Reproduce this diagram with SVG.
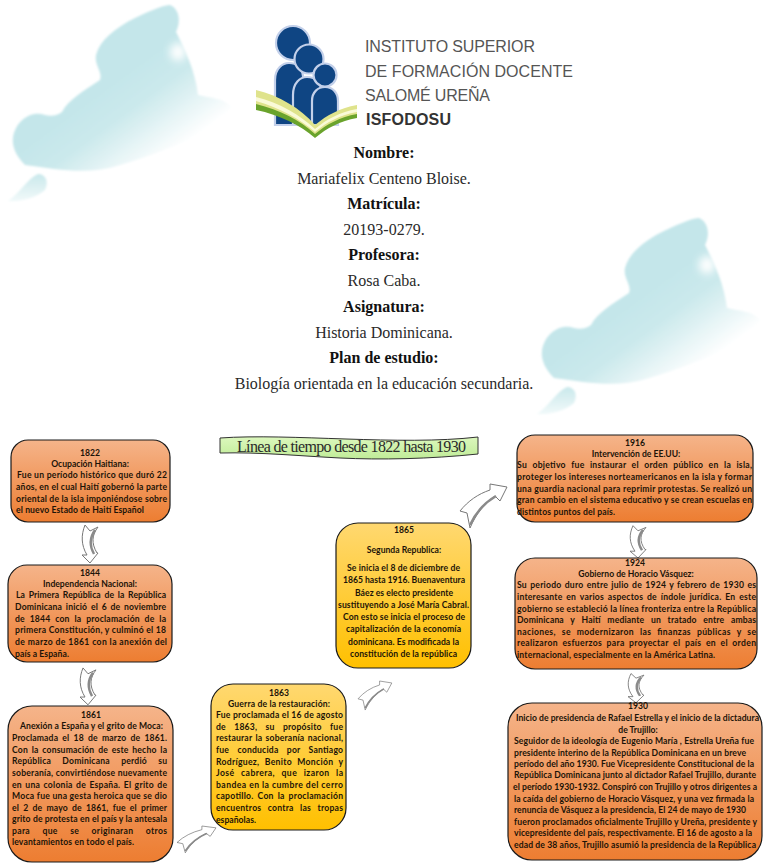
<svg xmlns="http://www.w3.org/2000/svg" width="768" height="866" viewBox="0 0 768 866">
<style>
.b{font-family:"Lato","Liberation Sans",sans-serif;font-weight:700;font-size:8.6px;fill:#1c1408}
.c{text-anchor:middle}
.h{font-family:"Liberation Serif",serif;font-size:16px;fill:#2a2a2a;text-anchor:middle}
.hb{font-weight:700;fill:#111}
.box{stroke:#1a1a1a;stroke-width:1.2}
.or{fill:url(#orange)}
.ye{fill:url(#yellow)}
.arw{fill:#fff;stroke:#777;stroke-width:1}
.ars{fill:none;stroke:#8a8a8a;stroke-width:2.4}
.lg{font-family:"Liberation Sans",sans-serif;font-size:16px;fill:#555}
</style>
<defs>
<linearGradient id="orange" x1="0" y1="0" x2="0" y2="1"><stop offset="0" stop-color="#f5b48a"/><stop offset="1" stop-color="#ed7d31"/></linearGradient>
<linearGradient id="yellow" x1="0" y1="0" x2="0" y2="1"><stop offset="0" stop-color="#ffd870"/><stop offset="1" stop-color="#ffc000"/></linearGradient>
<linearGradient id="banner" x1="0" y1="0" x2="0" y2="1"><stop offset="0" stop-color="#dcf7bd"/><stop offset="1" stop-color="#c0ec98"/></linearGradient>
<linearGradient id="cg" gradientUnits="userSpaceOnUse" x1="95" y1="95" x2="150" y2="170"><stop offset="0" stop-color="#c4e6ea"/><stop offset="0.35" stop-color="#cbe9ec"/><stop offset="1" stop-color="#ffffff"/></linearGradient>
<linearGradient id="cg2" gradientUnits="userSpaceOnUse" x1="30" y1="175" x2="30" y2="203"><stop offset="0" stop-color="#cbe9ec"/><stop offset="1" stop-color="#f4fbfb"/></linearGradient>
<filter id="soft" x="-20%" y="-20%" width="140%" height="140%"><feGaussianBlur stdDeviation="1.2"/></filter>
<filter id="softer" x="-40%" y="-40%" width="180%" height="180%"><feGaussianBlur stdDeviation="4"/></filter>
<g id="cloud">
<path filter="url(#soft)" fill="url(#cg)" d="M170,5C178,8 182,20 176,32C185,50 195,70 198,95C210,98 225,98 232,108C220,130 170,150 120,165C90,175 60,170 25,165C15,155 12,145 13,138C15,122 30,110 45,115C52,117 58,115 62,112C68,100 85,90 100,80C103,72 94,65 96,55C100,40 115,28 135,18C148,12 160,6 170,5Z"/>
<ellipse filter="url(#softer)" cx="178" cy="52" rx="8" ry="9" fill="#fff"/>
<path filter="url(#soft)" fill="url(#cg2)" d="M38,174C46,174 49,182 45,190C36,198 20,202 8,201C20,193 28,178 38,174Z"/>
</g>
<g id="dn">
<path class="arw" d="M3,2L8,8L16,4C10,12 9,20 15,30L16,30L8,40L0,32L5,32C-1,22 -1,12 3,2Z"/>
<path class="ars" d="M13,7C8,14 7,22 12,31"/>
</g>
<g id="up">
<path class="arw" d="M0,27C8,17 18,10 30,6L30,0L47,3L40,17L35,12C24,20 16,30 10,44L7,29Z"/>
<path class="ars" d="M10,41C16,28 24,19 36,12"/>
</g>
</defs>

<use href="#cloud"/>
<use href="#cloud" transform="translate(529,213)"/>

<g id="logo">
<g fill="#0f4583" stroke="#c3d0ea" stroke-width="2.2">
<circle cx="293" cy="43" r="17"/>
<path d="M275,125V80C275,68 283,63 289,63C297,63 302,68 303,76V125Z"/>
<circle cx="309" cy="59" r="14.5"/>
<path d="M293,125V95C293,83 300,77 307,77C316,77 322,84 322,95V125Z"/>
<circle cx="325" cy="75" r="11.5"/>
<path d="M312,125V101C312,92 318,87 325,87C333,87 338,93 338,101V125Z"/>
</g>
<path fill="#dfe38c" d="M256,90C280,96 300,108 315,125C327,115 340,108 357,105V116C340,119 327,126 315,137C300,124 280,113 256,108Z"/>
<path fill="#fafad8" d="M256,97C280,103 300,115 315,129C327,119 340,112 357,109V112C340,115 327,122 315,132C300,119 280,108 256,101Z"/>
<path fill="#6aa32c" d="M256,104C280,110 300,120 315,134C327,124 340,117 357,114V118C340,121 327,128 315,138C300,125 280,115 256,110Z"/>
<text class="lg" x="365" y="52" textLength="170">INSTITUTO SUPERIOR</text>
<text class="lg" x="365" y="77" textLength="208">DE FORMACIÓN DOCENTE</text>
<text class="lg" x="365" y="101" textLength="125">SALOMÉ UREÑA</text>
<text class="lg" x="366" y="125" textLength="85" font-weight="700" style="fill:#333">ISFODOSU</text>
</g>

<g id="header">
<text class="h hb" x="384" y="158">Nombre:</text>
<text class="h" x="384" y="184">Mariafelix Centeno Bloise.</text>
<text class="h hb" x="384" y="209">Matrícula:</text>
<text class="h" x="384" y="235">20193-0279.</text>
<text class="h hb" x="384" y="260">Profesora:</text>
<text class="h" x="384" y="286">Rosa Caba.</text>
<text class="h hb" x="384" y="312">Asignatura:</text>
<text class="h" x="384" y="338">Historia Dominicana.</text>
<text class="h hb" x="384" y="363">Plan de estudio:</text>
<text class="h" x="384" y="389">Biología orientada en la educación secundaria.</text>
</g>

<g id="title">
<path d="M220,438C290,433 400,446 478,437V454C430,459 380,460 340,458C300,456 260,452 220,453Z" fill="url(#banner)" stroke="#333" stroke-width="1"/>
<text class="h" x="351.500" y="452" textLength="229">Línea de tiempo desde 1822 hasta 1930</text>
</g>

<g id="connectors">
<use href="#dn" transform="translate(82,523)"/>
<use href="#dn" transform="translate(80,666) scale(1,.97)"/>
<use href="#dn" transform="translate(630,524) scale(1,.85)"/>
<use href="#dn" transform="translate(628,672) scale(1,.77)"/>
<use href="#up" transform="translate(177,826) scale(.83,.61)"/>
<use href="#up" transform="translate(358,681) scale(.72,.66)"/>
<use href="#up" transform="translate(460,484)"/>
</g>

<g id="n1822">
<rect class="box or" x="11" y="440" width="159" height="82" rx="17"/>
<text class="b c" x="90" y="456">1822</text>
<text class="b c" x="90" y="467">Ocupación Haitiana:</text>
<text class="b" x="17" y="478" textLength="150">Fue un período histórico que duró 22</text>
<text class="b" x="16" y="490" textLength="151">años, en el cual Haití gobernó la parte</text>
<text class="b" x="16" y="502" textLength="151">oriental de la isla imponiéndose sobre</text>
<text class="b" x="16" y="513" textLength="128">el nuevo Estado de Haití Español</text>
</g>

<g id="n1844">
<rect class="box or" x="8" y="565" width="164" height="97" rx="19"/>
<text class="b c" x="90" y="576">1844</text>
<text class="b c" x="90" y="587">Independencia Nacional:</text>
<text class="b" x="16" y="598" textLength="150" word-spacing="1.5">La Primera República de la República</text>
<text class="b" x="15" y="610" textLength="151" word-spacing="1.5">Dominicana inició el 6 de noviembre</text>
<text class="b" x="15" y="622" textLength="151" word-spacing="2.5">de 1844 con la proclamación de la</text>
<text class="b" x="15" y="633" textLength="151">primera Constitución, y culminó el 18</text>
<text class="b" x="15" y="645" textLength="152">de marzo de 1861 con la anexión del</text>
<text class="b" x="15" y="657" textLength="54">país a España.</text>
</g>

<g id="n1861">
<rect class="box or" x="8" y="706" width="165" height="156" rx="24"/>
<text class="b c" x="91" y="718">1861</text>
<text class="b" x="20" y="729" textLength="143">Anexión a España y el grito de Moca:</text>
<text class="b" x="12" y="741" textLength="155" word-spacing="2">Proclamada el 18 de marzo de 1861.</text>
<text class="b" x="12" y="753" textLength="155" word-spacing="1.5">Con la consumación de este hecho la</text>
<text class="b" x="12" y="764" textLength="155" word-spacing="9">República Dominicana perdió su</text>
<text class="b" x="12" y="776" textLength="155">soberanía, convirtiéndose nuevamente</text>
<text class="b" x="12" y="788" textLength="155" word-spacing="1">en una colonia de España. El grito de</text>
<text class="b" x="12" y="799" textLength="155">Moca  fue una gesta heroica que se dio</text>
<text class="b" x="12" y="811" textLength="155" word-spacing="2">el 2 de mayo de 1861, fue el primer</text>
<text class="b" x="12" y="822" textLength="155">grito de protesta en el país y la antesala</text>
<text class="b" x="12" y="834" textLength="155" word-spacing="10">para que se originaran otros</text>
<text class="b" x="12" y="845" textLength="122">levantamientos en todo el país.</text>
</g>

<g id="n1863">
<rect class="box ye" x="211" y="684" width="135" height="146" rx="22"/>
<text class="b c" x="279" y="696">1863</text>
<text class="b" x="228" y="707" textLength="102">Guerra de la restauración:</text>
<text class="b" x="216" y="718" textLength="127">Fue proclamada el 16 de agosto</text>
<text class="b" x="216" y="730" textLength="127" word-spacing="6">de 1863, su propósito fue</text>
<text class="b" x="216" y="741" textLength="127" word-spacing="1">restaurar la soberanía nacional,</text>
<text class="b" x="216" y="753" textLength="127" word-spacing="6">fue conducida por Santiago</text>
<text class="b" x="216" y="765" textLength="127" word-spacing="3">Rodríguez, Benito Monción y</text>
<text class="b" x="216" y="776" textLength="127" word-spacing="4">José cabrera, que izaron la</text>
<text class="b" x="216" y="788" textLength="127">bandea en la cumbre del cerro</text>
<text class="b" x="216" y="799" textLength="127" word-spacing="1.500">capotillo. Con la proclamación</text>
<text class="b" x="216" y="811" textLength="127" word-spacing="4">encuentros contra las tropas</text>
<text class="b" x="216" y="823" textLength="40">españolas.</text>
</g>

<g id="n1865">
<rect class="box ye" x="336" y="523" width="135" height="145" rx="22"/>
<text class="b c" x="404" y="533">1865</text>
<text class="b c" x="404" y="553">Segunda Republica:</text>
<text class="b" x="347" y="571" textLength="113">Se inicia el 8 de diciembre de</text>
<text class="b" x="343" y="583" textLength="122">1865 hasta 1916. Buenaventura</text>
<text class="b" x="355" y="596" textLength="98">Báez es electo presidente</text>
<text class="b" x="338" y="608" textLength="131">sustituyendo a José María Cabral.</text>
<text class="b" x="343" y="620" textLength="122">Con esto se inicia el proceso de</text>
<text class="b" x="346" y="632" textLength="115">capitalización de la economía</text>
<text class="b" x="348" y="645" textLength="111">dominicana. Es modificada la</text>
<text class="b" x="350" y="657" textLength="107">constitución de la república</text>
</g>

<g id="n1916">
<rect class="box or" x="517" y="435" width="236" height="87" rx="18"/>
<text class="b c" x="635" y="446">1916</text>
<text class="b c" x="636" y="457">Intervención de EE.UU:</text>
<text class="b" x="517" y="468" textLength="235" word-spacing="3">Su objetivo fue instaurar el orden público en la isla,</text>
<text class="b" x="517" y="480" textLength="235">proteger los intereses norteamericanos en la isla y formar</text>
<text class="b" x="517" y="492" textLength="235">una guardia nacional para reprimir protestas. Se realizó un</text>
<text class="b" x="517" y="503" textLength="235">gran cambio en el sistema educativo y se crean escuelas en</text>
<text class="b" x="517" y="515" textLength="98">distintos puntos del país.</text>
</g>

<g id="n1924">
<rect class="box or" x="515" y="558" width="242" height="111" rx="20"/>
<text class="b c" x="635" y="566">1924</text>
<text class="b c" x="636" y="577">Gobierno de Horacio Vásquez:</text>
<text class="b" x="517" y="588" textLength="239" word-spacing="1">Su periodo duro entre julio de 1924 y febrero de 1930 es</text>
<text class="b" x="517" y="600" textLength="239" word-spacing="1.500">interesante en varios aspectos de índole jurídica. En este</text>
<text class="b" x="517" y="612" textLength="239">gobierno se estableció la línea fronteriza entre la República</text>
<text class="b" x="517" y="623" textLength="239" word-spacing="4.500">Dominicana y Haití mediante un tratado entre ambas</text>
<text class="b" x="517" y="635" textLength="239" word-spacing="3.500">naciones, se modernizaron las finanzas públicas y se</text>
<text class="b" x="517" y="646" textLength="239" word-spacing="2">realizaron esfuerzos para proyectar el país en el orden</text>
<text class="b" x="517" y="658" textLength="198">internacional, especialmente en la América Latina.</text>
</g>

<g id="n1930">
<rect class="box or" x="508" y="703" width="254" height="157" rx="24"/>
<text class="b c" x="638" y="709">1930</text>
<text class="b" x="516" y="721" textLength="243">Inicio de presidencia de Rafael Estrella y el inicio de la dictadura</text>
<text class="b c" x="638" y="733">de Trujillo:</text>
<text class="b" x="514" y="744" textLength="240">Seguidor de la ideología de Eugenio María , Estrella Ureña fue</text>
<text class="b" x="514" y="756" textLength="232">presidente interino de la República Dominicana en un breve</text>
<text class="b" x="514" y="767" textLength="240">período del año 1930. Fue Vicepresidente Constitucional de la</text>
<text class="b" x="514" y="778" textLength="242">República Dominicana junto al dictador Rafael Trujillo, durante</text>
<text class="b" x="513" y="790" textLength="244">el período 1930-1932. Conspiró con Trujillo y otros dirigentes a</text>
<text class="b" x="514" y="802" textLength="240">la caída del gobierno de Horacio Vásquez, y una vez firmada la</text>
<text class="b" x="514" y="813" textLength="232">renuncia de Vásquez a la presidencia, El 24 de mayo de 1930</text>
<text class="b" x="514" y="825" textLength="243">fueron proclamados oficialmente Trujillo y Ureña, presidente y</text>
<text class="b" x="514" y="836" textLength="238">vicepresidente del país, respectivamente. El 16 de agosto a la</text>
<text class="b" x="514" y="848" textLength="242">edad de 38 años, Trujillo asumió la presidencia de la República</text>
</g>
</svg>
